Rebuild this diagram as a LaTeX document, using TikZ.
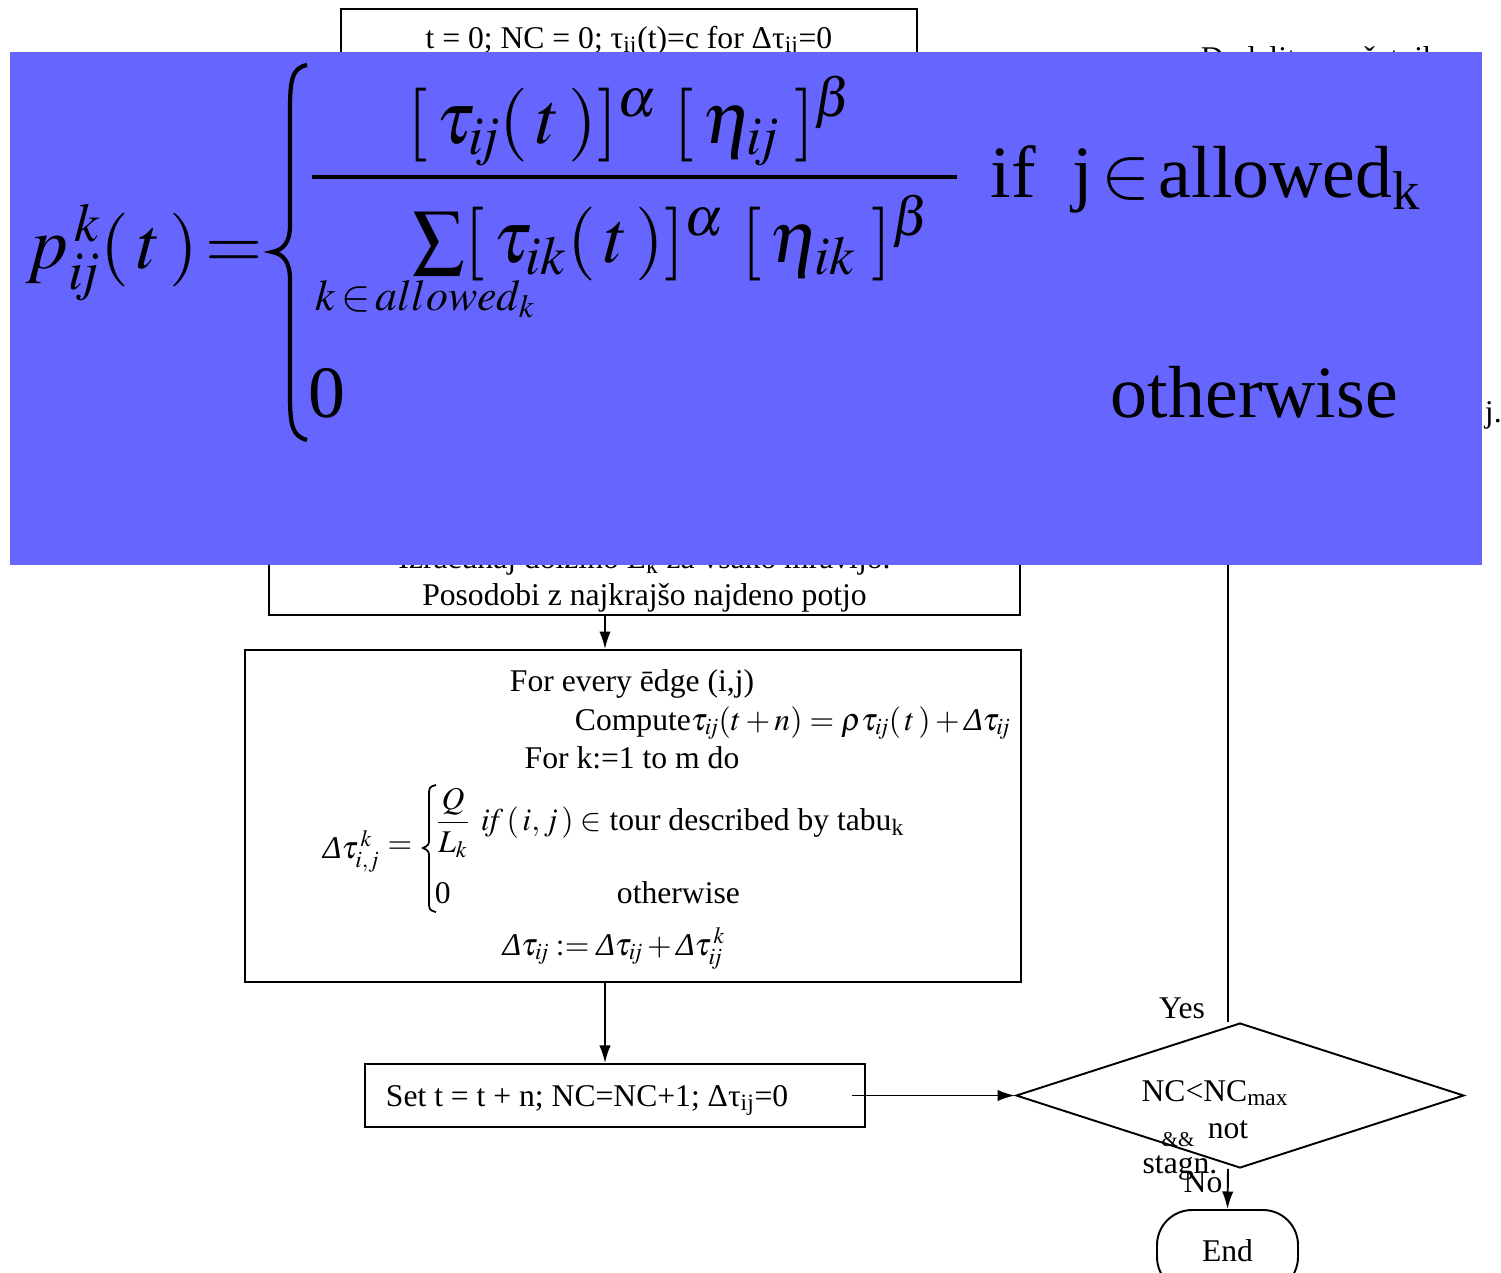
\documentclass[tikz,border=0pt]{standalone}
\usepackage{mathptmx}
\usepackage{fontspec}
\setmainfont{Liberation Serif}
\usepackage{tikz}
\usetikzlibrary{shapes.geometric,arrows.meta,calc}
\definecolor{formbg}{RGB}{102,102,255}
\newcommand{\dlt}{\mbox{\itshape Δ}}
\newcommand{\sij}{\mathit{ij}}
\newcommand{\sik}{\mathit{ik}}
\tikzset{
	>={Latex[length=10pt,width=6.5pt]},
	box/.style = {draw, inner sep=0pt},
	txt/.style = {font=\fontsize{18}{21}\selectfont, inner sep=0pt},
	big/.style = {font=\fontsize{42}{48}\selectfont, inner sep=0pt},
	sub/.style = {font=\fontsize{25}{30}\selectfont, inner sep=0pt},
}
\begin{document}
\begin{tikzpicture}[x=0.02cm, y=-0.02cm, line width=1.1pt]
	\useasboundingbox (0,0) rectangle (1501,1272);
	% flow chart, under the formula
	\node (init) [box, anchor=north, minimum width=11.52cm, minimum height=1.6cm] at (629,8) {};
	\node (inittxt) [txt, anchor=base] at (629,48) {t = 0; NC = 0; τ\textsubscript{ij}(t)=c for Δτ\textsubscript{ij}=0};
	\node (dod) [txt, anchor=base west] at (1200,68) {Dodelitev začetnih};
	\node (upd) [box, txt, align=center, anchor=south, minimum width=15.02cm, inner ysep=1.7pt] at (644.5,616)
		{Izračunaj dolžino L\textsubscript{k} za vsako mravljo.\\Posodobi z najkrajšo najdeno potjo};
	\node (loop) [box, minimum width=15.52cm, minimum height=6.64cm] at (633,816) {};
	\node (set) [box, minimum width=10cm, minimum height=1.26cm] at (615,1095.5) {};
	\node (settxt) [txt, anchor=base west] at (385,1106) {Set t = t + n; NC=NC+1; Δτ\textsubscript{ij}=0};
	\node (dec) [box, diamond, minimum width=8.96cm, minimum height=2.9cm] at (1240,1095.5) {};
	\node (end) [box, txt, rounded corners=0.7cm, minimum width=2.82cm, minimum height=1.64cm] at (1227.5,1251) {End};

	\coordinate (mid) at (605,0);
	\coordinate (back) at (1228,300);
	\draw[->] (upd.south -| mid) -- (loop.north -| mid);
	\draw[->] (loop.south -| mid) -- (set.north -| mid);
	\draw[->] ([xshift=-0.28cm]set.east) -- (dec.west);
	\draw (back |- dec.north) -- (back);
	\draw[->] (dec.south -| back) -- (end.north);

	\node (yes) [txt] at (1182,1008) {Yes};
	\node (cond1) [txt] at (1215,1093) {NC<NC\textsubscript{max}};
	\node (cond2) [txt] at (1228,1130) {not};
	\node (amp) [font=\fontsize{12}{14}\selectfont, inner sep=0pt] at (1178,1140) {\&\&};
	\node (cond3) [txt] at (1180,1168) {stagn.};
	\node (no) [txt] at (1203,1182) {No};
	\node (jdot) [txt, anchor=base west] at (1484,422) {j.};

	% update rule
	\node (every) [txt, anchor=base] at (632,691) {For every \={e}dge (i,j)};
	\node (comp) [txt, anchor=base west] at (574,730) {Compute$\tau_{\sij}(t+n)=\rho\tau_{\sij}(\,t\,)+\dlt\tau_{\sij}$};
	\node (fork) [txt, anchor=base] at (632,768) {For k:=1 to m do};
	\node (dk) [txt, anchor=base west] at (322,858) {$\dlt\tau^{\,k}_{i,j}$};
	\node (eq) [txt] at (400,848) {$=$};
	\draw[line width=1pt] (436,785) .. controls (429,787) .. (429,797) -- (429,838)
		.. controls (429,845) .. (423,848) .. controls (429,851) .. (429,858) -- (429,900)
		.. controls (429,910) .. (436,912);
	\node (ql) [txt] at (453,823) {$\displaystyle\frac{Q}{L_k}$};
	\node (cond) [txt, anchor=base west] at (480,830) {$\mathit{if}\,(\,i,j\,)\in$ tour described by  tabu\textsubscript{k}};
	\node (zero) [txt, anchor=base west] at (434,903) {0};
	\node (oth) [txt, anchor=base west] at (616,903) {otherwise};
	\node (acc) [txt, anchor=base] at (614,955) {$\dlt\tau_{\sij}:=\dlt\tau_{\sij}+\dlt\tau^{\,k}_{\sij}$};

	% formula panel
	\fill[formbg] (10,52) rectangle (1482,565);
	\node (pk) [big, anchor=base west] at (25,268) {$p^{\,k}_{\sij}(\,t\,)\!=$};
	\draw[line width=2.4pt] (307,65) .. controls (292,68) and (290,80) .. (290,110) -- (290,225)
		.. controls (290,243) and (283,250) .. (272,252) .. controls (283,254) and (290,261) .. (290,280)
		-- (290,395) .. controls (290,425) and (292,436) .. (307,440);
	\node (num) [big, anchor=base] at (630,143) {$[\,\tau_{\sij}(\,t\,)]^{\alpha}\;[\,\eta_{\sij}\;]^{\beta}$};
	\draw[line width=2pt] (312,177) -- (957,177);
	\node (den) [big, anchor=base] at (671,262) {$\sum[\,\tau_{\sik}(\,t\,)]^{\alpha}\;[\,\eta_{\sik}\;]^{\beta}$};
	\node (lim) [sub, anchor=base west] at (315,310) {$k\!\in\! allowed_k$};
	\node (ifj) [big, anchor=base west] at (990,197) {if\hspace{0.5em}j$\,\in\,$allowed\textsubscript{k}};
	\node (z0) [big, anchor=base west] at (308,417) {0};
	\node (oth2) [big, anchor=base west] at (1110,417) {otherwise};
\end{tikzpicture}
\end{document}
